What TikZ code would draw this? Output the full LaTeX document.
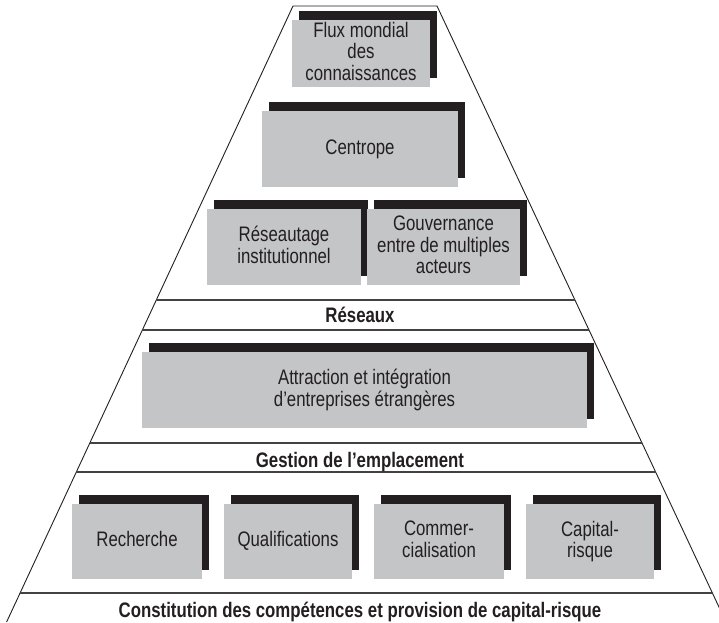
\documentclass[tikz,border=0pt]{standalone}
\usepackage{fontspec}
\setmainfont{Liberation Sans}[FakeStretch=0.80]
\usetikzlibrary{shadows,calc}
\definecolor{boxgray}{HTML}{C4C5C7}
\definecolor{ink}{HTML}{231F20}
\begin{document}
\begin{tikzpicture}[x=1pt,y=-1pt,
  blk/.style={fill=boxgray, text=ink, inner sep=0pt, align=center,
    font=\fontsize{21}{21.5}\selectfont, text depth=4.5pt,
    general shadow={fill=ink, shadow xshift=7pt, shadow yshift=9pt}},
  band/.style={text=ink, font=\bfseries\fontsize{21}{22}\selectfont, anchor=base, inner sep=0pt},
  edge/.style={draw=ink, line width=0.9pt},
  hline/.style={draw=ink!85, line width=1.3pt}]
\useasboundingbox (0,0) rectangle (719,622);
\begin{scope}
\clip (0,0) rectangle (719,622);
\coordinate (TL) at (293,6);
\coordinate (TR) at (437,6);
\coordinate (BL) at (6.6,622);
\coordinate (BR) at (726,622);
\draw[edge] (BL) -- (TL) -- (TR) -- (BR);
\foreach \y in {300,330,443,472,593}
  \draw[hline] ($(TL)!{(\y-6)/616}!(BL)$) -- ($(TR)!{(\y-6)/616}!(BR)$);
\end{scope}
\node[blk, minimum width=138pt, minimum height=67pt] (flux) at (361,53.5) {Flux mondial\\des\\connaissances};
\node[blk, minimum width=196pt, minimum height=76pt] (centrope) at (360,149) {Centrope};
\node[blk, minimum width=154pt, minimum height=76pt] (reseautage) at (284,247) {Réseautage\\institutionnel};
\node[blk, minimum width=153pt, minimum height=76pt] (gouv) at (443.5,247) {Gouvernance\\entre de multiples\\acteurs};
\node[band] (reseaux) at (360,322) {Réseaux};
\node[blk, minimum width=445pt, minimum height=76pt] (attraction) at (364.5,390) {Attraction et intégration\\d’entreprises étrangères};
\node[band] (gestion) at (360,467) {Gestion de l’emplacement};
\node[blk, minimum width=130pt, minimum height=75pt] (recherche) at (137,541.5) {Recherche};
\node[blk, minimum width=128pt, minimum height=75pt] (qualif) at (288,541.5) {Qualifications};
\node[blk, minimum width=130pt, minimum height=75pt] (commer) at (439,541.5) {Commer-\\cialisation};
\node[blk, minimum width=128pt, minimum height=75pt] (capital) at (590,541.5) {Capital-\\risque};
\node[band] (constitution) at (360,617) {Constitution des compétences et provision de capital-risque};
\end{tikzpicture}
\end{document}
